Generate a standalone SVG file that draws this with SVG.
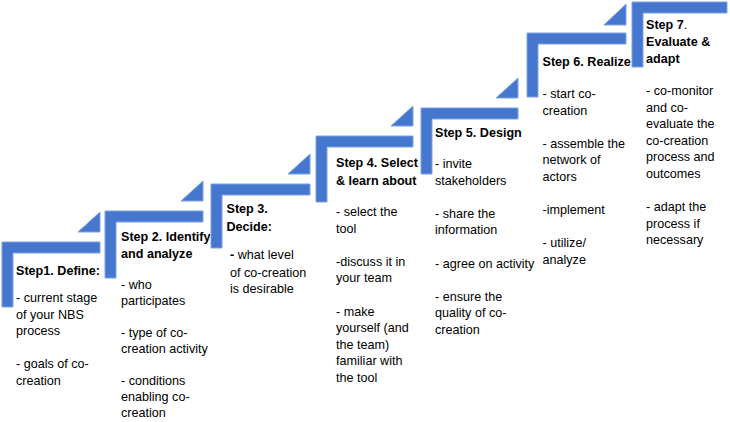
<svg xmlns="http://www.w3.org/2000/svg" width="730" height="422" viewBox="0 0 730 422">
<style>
.sh{fill:#4677CF;stroke:#7CA2E2;stroke-width:1}
text{font-family:"Liberation Sans",Arial,sans-serif;font-size:12.6px;fill:#000}
.h{font-weight:bold}
</style>
<rect width="730" height="422" fill="#fff"/>
<g id="step1">
<polygon class="sh" points="2,242 100,242 100,253 13,253 13,307 2,307"/>
<polygon class="sh" points="78,232 100,232 100,212"/>
<text class="h" x="16" y="275">Step1. Define:</text>
<text x="16" y="302">- current stage</text>
<text x="16" y="318.6">of your NBS</text>
<text x="16" y="335.2">process</text>
<text x="16" y="368.4">- goals of co-</text>
<text x="16" y="385">creation</text>
</g>
<g id="step2">
<polygon class="sh" points="105,211 203,211 203,222 116,222 116,278 105,278"/>
<polygon class="sh" points="181,201 203,201 203,181"/>
<text class="h" x="121" y="241">Step 2. Identify</text>
<text class="h" x="121" y="258">and analyze</text>
<text x="121" y="289">- who</text>
<text x="121" y="305">participates</text>
<text x="121" y="337">- type of co-</text>
<text x="121" y="353">creation activity</text>
<text x="121" y="385">- conditions</text>
<text x="121" y="401">enabling co-</text>
<text x="121" y="417">creation</text>
</g>
<g id="step3">
<polygon class="sh" points="211,184 310,184 310,195 222,195 222,248 211,248"/>
<polygon class="sh" points="288,174 310,174 310,154"/>
<text class="h" x="226.5" y="213">Step 3.</text>
<text class="h" x="226.5" y="231">Decide:</text>
<text x="230" y="259"><tspan class="h">-</tspan> what level</text>
<text x="230" y="276.6">of co-creation</text>
<text x="230" y="293.2">is desirable</text>
</g>
<g id="step4">
<polygon class="sh" points="316,136 413,136 413,147 327,147 327,202 316,202"/>
<polygon class="sh" points="391,126 413,126 413,106"/>
<text class="h" x="336" y="167">Step 4. Select</text>
<text class="h" x="336" y="184.5">&amp; learn about</text>
<text x="336" y="216">- select the</text>
<text x="336" y="232.6">tool</text>
<text x="336" y="265.8">-discuss it in</text>
<text x="336" y="282.4">your team</text>
<text x="336" y="315.6">- make</text>
<text x="336" y="332.2">yourself (and</text>
<text x="336" y="348.8">the team)</text>
<text x="336" y="365.4">familiar with</text>
<text x="336" y="382">the tool</text>
</g>
<g id="step5">
<polygon class="sh" points="421,108 518,108 518,119 432,119 432,174 421,174"/>
<polygon class="sh" points="496,98 518,98 518,78"/>
<text class="h" x="435" y="137">Step 5. Design</text>
<text x="435" y="168">- invite</text>
<text x="435" y="184.6">stakeholders</text>
<text x="435" y="217.8">- share the</text>
<text x="435" y="234.4">information</text>
<text x="435" y="267.6">- agree on activity</text>
<text x="435" y="300.8">- ensure the</text>
<text x="435" y="317.4">quality of co-</text>
<text x="435" y="334">creation</text>
</g>
<g id="step6">
<polygon class="sh" points="527,33 626,33 626,44 538,44 538,97 527,97"/>
<polygon class="sh" points="604,25 626,25 626,4"/>
<text class="h" x="542.5" y="66">Step 6. Realize</text>
<text x="542.5" y="98">- start co-</text>
<text x="542.5" y="114.6">creation</text>
<text x="542.5" y="147.8">- assemble the</text>
<text x="542.5" y="164.4">network of</text>
<text x="542.5" y="181">actors</text>
<text x="542.5" y="214.2">-implement</text>
<text x="542.5" y="247.4">- utilize/</text>
<text x="542.5" y="264">analyze</text>
</g>
<g id="step7">
<polygon class="sh" points="632,2 727,2 727,13 643,13 643,67 632,67"/>
<text class="h" x="646" y="29">Step 7<tspan font-weight="normal">.</tspan></text>
<text class="h" x="646" y="46">Evaluate &amp;</text>
<text class="h" x="646" y="63">adapt</text>
<text x="646" y="95">- co-monitor</text>
<text x="646" y="111.6">and co-</text>
<text x="646" y="128.2">evaluate the</text>
<text x="646" y="144.8">co-creation</text>
<text x="646" y="161.4">process and</text>
<text x="646" y="178">outcomes</text>
<text x="646" y="211.2">- adapt the</text>
<text x="646" y="227.8">process if</text>
<text x="646" y="244.4">necessary</text>
</g>
</svg>
